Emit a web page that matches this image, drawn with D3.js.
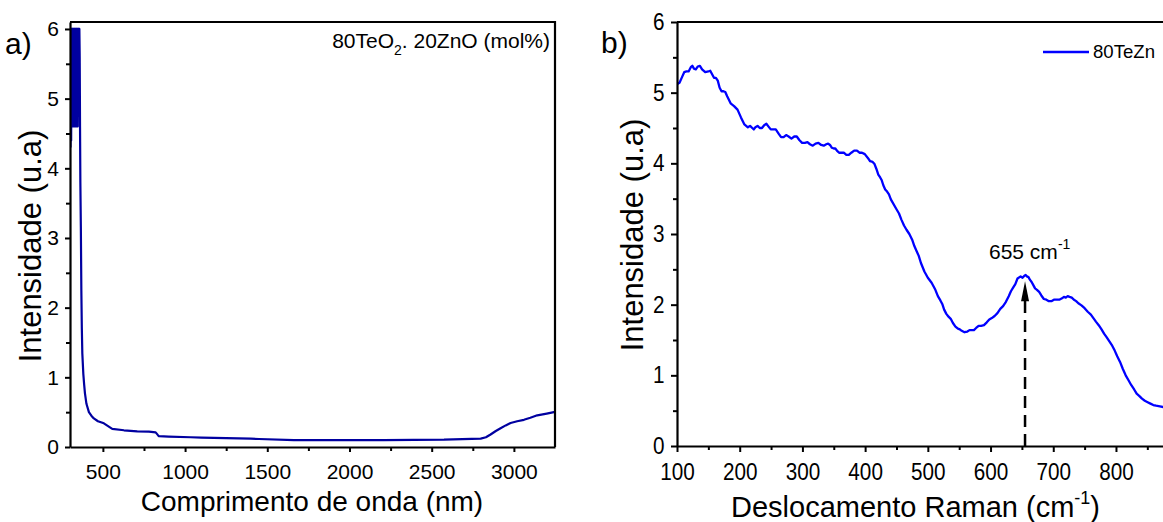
<!DOCTYPE html>
<html><head><meta charset="utf-8">
<script src="https://cdn.jsdelivr.net/npm/d3@7"></script>
<style>
body{margin:0;background:#fff}
text{font-family:"Liberation Sans",Arial,sans-serif;fill:#000}
</style></head>
<body><svg id="c" width="1163" height="522"></svg>
<script>
// ---- Data: panel a (UV-Vis-NIR) ----
const uvWavelength = [303,305,307,309,311,313,315,317,319,321,323,325,327,329,331,333,335,337,339,341,343,345,347,349,351,353,355,357,359,361,363,366,369,372,375,381,386,391,400,415,430,445,470,506,557,628,709,780,821,835,841,900,1034,1100,1399,1450,1662,2208,2575,2798,2830,2858,2890,2919,2950,2980,3020,3061,3100,3142,3200,3243,3250];
const uvIntensity  = [4.3,6,4.4,6,4.62,6,4.6,6,4.65,6,4.6,6,4.62,6,4.6,6,4.65,6,4.6,6,4.62,6,4.6,6,5.0,6,5.6,6,5.6,4.6,3.8,3.15,2.25,1.7,1.34,1.05,0.9,0.77,0.62,0.5,0.45,0.41,0.37,0.34,0.26,0.24,0.225,0.22,0.21,0.17,0.155,0.15,0.14,0.135,0.12,0.115,0.10,0.10,0.105,0.12,0.14,0.18,0.23,0.27,0.31,0.345,0.37,0.39,0.42,0.455,0.48,0.50,0.5];
const uvXTicks = [500,1000,1500,2000,2500,3000];
const uvXMinor = [750,1250,1750,2250,2750];
const uvYTicks = [0,1,2,3,4,5,6];
const uvYMinor = [0.5,1.5,2.5,3.5,4.5,5.5];

// ---- Data: panel b (Raman) ----
const ramanShift = [100,104,108,111.5,115,118.5,122,124.5,127,130,133,136.5,140,145,150,153,156,159,162,165,168,171,174,177,180,185.5,191,196.5,202,207.5,213,216.5,220,222.5,225,228.5,232,235.5,239,242.5,246,249.5,253,257.5,262,266,270,274,278,282.5,287,291,295,299.5,304,308,312,316.5,321,325.5,330,334,338,341,344,347,350,352.5,355,358.5,362,366,370,374,378,382.5,387,391,395,399.5,404,408,412,415,418,421,424,426.5,429,432,435,438,441,450,454,458,462,466,470.5,475,478.5,482,485.5,489,494.5,500,506,512,516,520,523,526,529.5,533,536.5,540,544,548,551,554,558.5,563,566.5,570,573.5,577,581,585,589.5,594,598,602,606.5,611,615.5,620,624.5,629,632.5,636,639.5,643,648,651,654,656,658,660.5,663,665.5,668,671,674,677.5,681,685,689,693,697,701,705,709.5,714,717,720,723,726,729.5,733,736.5,740,745,750,755,760,764,768,772.5,777,781,785,789.5,794,798,802,806.5,811,815.5,820,824.5,829,833,837,841.5,846,850.5,855,859.5,864,870,876];
const ramanIntensity = [5.12,5.14,5.22,5.29,5.3,5.30,5.36,5.38,5.34,5.33,5.37,5.38,5.33,5.29,5.3,5.31,5.26,5.21,5.21,5.17,5.07,5.02,5.02,5.01,4.95,4.85,4.81,4.76,4.65,4.55,4.51,4.53,4.5,4.48,4.51,4.53,4.5,4.5,4.54,4.56,4.52,4.48,4.48,4.48,4.42,4.37,4.37,4.4,4.38,4.35,4.38,4.38,4.33,4.29,4.29,4.3,4.27,4.25,4.28,4.29,4.26,4.25,4.27,4.28,4.26,4.22,4.21,4.21,4.18,4.15,4.15,4.15,4.12,4.12,4.15,4.18,4.18,4.15,4.15,4.13,4.08,4.03,4.02,3.99,3.92,3.84,3.8,3.76,3.69,3.63,3.6,3.56,3.49,3.35,3.29,3.2,3.12,3.06,3.0,2.92,2.83,2.76,2.69,2.59,2.47,2.38,2.31,2.21,2.12,2.06,2.01,1.93,1.87,1.83,1.8,1.74,1.69,1.66,1.65,1.63,1.61,1.62,1.64,1.64,1.64,1.67,1.7,1.7,1.71,1.75,1.79,1.81,1.84,1.88,1.94,1.98,2.04,2.12,2.19,2.24,2.29,2.37,2.4,2.38,2.41,2.42,2.4,2.39,2.35,2.32,2.28,2.23,2.21,2.18,2.13,2.08,2.07,2.05,2.05,2.07,2.07,2.07,2.09,2.11,2.1,2.12,2.11,2.1,2.07,2.05,2.02,1.99,1.95,1.9,1.86,1.81,1.76,1.71,1.65,1.59,1.54,1.48,1.42,1.35,1.27,1.19,1.09,1.0,0.93,0.86,0.8,0.74,0.71,0.67,0.64,0.62,0.6,0.58,0.57,0.56,0.55];
const ramanXTicks = [100,200,300,400,500,600,700,800];
const ramanXMinor = [150,250,350,450,550,650,750,850];
const ramanYTicks = [0,1,2,3,4,5,6];
const ramanYMinor = [0.5,1.5,2.5,3.5,4.5,5.5];
const peakShift = 655, peakTip = 2.33;
const seriesName = "80TeZn";

const svg = d3.select("#c");

// ================= Panel a =================
const ax = d3.scaleLinear().domain([300,3250]).range([70,555]);
const ay = d3.scaleLinear().domain([0,6.1]).range([447,22]);

svg.append("clipPath").attr("id","clipA").append("rect")
  .attr("x",70).attr("y",22).attr("width",485).attr("height",425);
svg.append("path")
  .datum(uvWavelength.map((w,i)=>[w,uvIntensity[i]]))
  .attr("clip-path","url(#clipA)")
  .attr("fill","none").attr("stroke","#0000a0").attr("stroke-width",2.2)
  .attr("stroke-linejoin","round")
  .attr("d",d3.line().x(d=>ax(d[0])).y(d=>ay(d[1])));

function styleAxis(g,fs){
  g.select(".domain").attr("stroke","#000").attr("stroke-width",2.2);
  g.selectAll(".tick line").attr("stroke","#000").attr("stroke-width",2);
  g.selectAll("text").style("font-size",fs+"px").attr("fill","#000");
}
function minor(g){g.select(".domain").remove();g.selectAll(".tick line").attr("stroke","#000").attr("stroke-width",2);}
svg.append("g").attr("transform","translate(0,447)")
  .call(d3.axisBottom(ax).tickValues(uvXMinor).tickSize(4).tickFormat("")).call(minor);
svg.append("g").attr("transform","translate(70,0)")
  .call(d3.axisLeft(ay).tickValues(uvYMinor).tickSize(4).tickFormat("")).call(minor);
const gAx = svg.append("g").attr("transform","translate(0,447)")
  .call(d3.axisBottom(ax).tickValues(uvXTicks).tickSize(5).tickSizeOuter(0).tickPadding(12).tickFormat(d3.format("d")));
styleAxis(gAx,21);
const gAy = svg.append("g").attr("transform","translate(70,0)")
  .call(d3.axisLeft(ay).tickValues(uvYTicks).tickSize(5).tickSizeOuter(0).tickPadding(6).tickFormat(d3.format("d")));
styleAxis(gAy,21);
svg.append("path").attr("d","M70,22H555V447").attr("fill","none").attr("stroke","#000").attr("stroke-width",2.2);

svg.append("text").attr("x",312).attr("y",511).attr("text-anchor","middle")
  .style("font-size","28px").text("Comprimento de onda (nm)");
svg.append("text").attr("transform","translate(41,246) rotate(-90)").attr("text-anchor","middle")
  .style("font-size","31px").text("Intensidade (u.a)");
svg.append("text").attr("x",5).attr("y",54).style("font-size","30px").text("a)");
const ann = svg.append("text").attr("x",550).attr("y",48).attr("text-anchor","end").style("font-size","21px");
ann.append("tspan").text("80TeO");
ann.append("tspan").attr("dy",7).style("font-size","14px").text("2");
ann.append("tspan").attr("dy",-7).text(". 20ZnO (mol%)");

// ================= Panel b =================
const bx = d3.scaleLinear().domain([100,875]).range([677,1163]);
const by = d3.scaleLinear().domain([0,6]).range([446,22]);

svg.append("clipPath").attr("id","clipB").append("rect")
  .attr("x",677).attr("y",22).attr("width",486).attr("height",424);
svg.append("path")
  .datum(ramanShift.map((w,i)=>[w,ramanIntensity[i]]))
  .attr("clip-path","url(#clipB)")
  .attr("fill","none").attr("stroke","#0000ff").attr("stroke-width",2.3)
  .attr("stroke-linejoin","round")
  .attr("d",d3.line().x(d=>bx(d[0])).y(d=>by(d[1])));

svg.append("g").attr("transform","translate(0,446)")
  .call(d3.axisBottom(bx).tickValues(ramanXMinor).tickSize(4).tickFormat("")).call(minor);
svg.append("g").attr("transform","translate(677,0)")
  .call(d3.axisLeft(by).tickValues(ramanYMinor).tickSize(4).tickFormat("")).call(minor);
const gBx = svg.append("g").attr("transform","translate(0,446)")
  .call(d3.axisBottom(bx).tickValues(ramanXTicks).tickSize(6).tickSizeOuter(0).tickPadding(12).tickFormat(d3.format("d")));
styleAxis(gBx,23);
gBx.selectAll("text").attr("transform","scale(0.9,1)");
const gBy = svg.append("g").attr("transform","translate(677,0)")
  .call(d3.axisLeft(by).tickValues(ramanYTicks).tickSize(6).tickSizeOuter(0).tickPadding(8).tickFormat(d3.format("d")));
styleAxis(gBy,23);
gBy.selectAll("text").attr("transform","scale(0.9,1)");
svg.append("path").attr("d","M677,22H1163").attr("fill","none").attr("stroke","#000").attr("stroke-width",2.2);

// peak marker
svg.append("line").attr("x1",bx(peakShift)).attr("x2",bx(peakShift))
  .attr("y1",by(0)).attr("y2",by(peakTip)+18)
  .attr("stroke","#000").attr("stroke-width",2.5).attr("stroke-dasharray","12,7");
svg.append("path")
  .attr("d",`M${bx(peakShift)},${by(peakTip)}L${bx(peakShift)-4},${by(peakTip)+20}L${bx(peakShift)+4},${by(peakTip)+20}Z`)
  .attr("fill","#000");
const pk = svg.append("text").attr("x",989).attr("y",259).style("font-size","21px");
pk.append("tspan").text("655 cm");
pk.append("tspan").attr("dy",-10).style("font-size","14px").text("-1");

// legend
svg.append("line").attr("x1",1043).attr("x2",1089).attr("y1",52).attr("y2",52)
  .attr("stroke","#0000ff").attr("stroke-width",2.5);
svg.append("text").attr("x",1093).attr("y",58).style("font-size","18.6px").text(seriesName);

const xt = svg.append("text").attr("x",1100).attr("y",517).attr("text-anchor","end").style("font-size","29px");
xt.append("tspan").text("Deslocamento Raman (cm");
xt.append("tspan").attr("dy",-13).style("font-size","18px").text("-1");
xt.append("tspan").attr("dy",13).text(")");
svg.append("text").attr("transform","translate(643,235) rotate(-90)").attr("text-anchor","middle")
  .style("font-size","31px").text("Intensidade (u.a)");
svg.append("text").attr("x",601).attr("y",53).style("font-size","30px").text("b)");
</script></body></html>
